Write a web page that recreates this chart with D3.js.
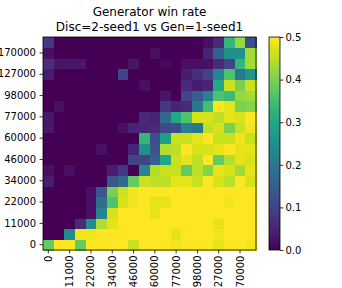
<!DOCTYPE html>
<html>
<head>
<meta charset="utf-8">
<script src="https://cdn.jsdelivr.net/npm/d3@7"></script>
<style>
	body { margin: 0; background: #fff; }
	svg text { font-family: "DejaVu Sans", sans-serif; fill: #000; }
</style>
</head>
<body>
<div id="graphicContainer"></div>
<script>
// tick labels, every second cell is labelled
var tickLabels = ["0", "11000", "22000", "34000", "46000", "60000", "77000", "98000", "127000", "170000"]

// generator win rate, rows from Gen step 0 (bottom) upwards, columns = Disc step
var winRate = [
	[0.38,0.5,0.5,0.38,0.5,0.5,0.5,0.5,0.46,0.5, 0.5,0.5,0.49,0.5,0.5,0.5,0.48,0.5,0.5,0.49],
	[0,0,0.24,0.49,0.49,0.5,0.5,0.5,0.5,0.5, 0.5,0.5,0.48,0.5,0.5,0.5,0.49,0.5,0.5,0.5],
	[0,0,0,0.06,0.24,0.44,0.48,0.5,0.5,0.5, 0.5,0.5,0.5,0.5,0.5,0.5,0.48,0.5,0.5,0.5],
	[0,0,0,0,0.02,0.22,0.47,0.5,0.5,0.5, 0.48,0.5,0.5,0.5,0.5,0.5,0.5,0.5,0.5,0.5],
	[0,0,0,0,0.02,0.18,0.36,0.47,0.49,0.5, 0.48,0.48,0.5,0.5,0.5,0.5,0.5,0.49,0.5,0.5],
	[0,0,0,0,0.02,0.13,0.4,0.46,0.49,0.5, 0.5,0.5,0.5,0.5,0.5,0.5,0.5,0.5,0.5,0.5],
	[0.04,0,0,0,0,0,0.13,0.17,0.38,0.46, 0.45,0.45,0.48,0.48,0.46,0.5,0.47,0.45,0.5,0.47],
	[0.02,0,0.02,0,0,0,0.04,0.08,0,0.23, 0.44,0.46,0.46,0.38,0.45,0.41,0.48,0.47,0.43,0.48],
	[0,0,0,0,0,0,0,0,0.1,0.1, 0.15,0.3,0.46,0.48,0.45,0.5,0.38,0.44,0.48,0.47],
	[0,0,0,0,0,0.02,0,0,0.05,0.25, 0.13,0.44,0.45,0.5,0.47,0.47,0.48,0.5,0.48,0.48],
	[0,0,0,0,0,0,0,0,0,0.33, 0.12,0.28,0.46,0.46,0.48,0.5,0.46,0.46,0.49,0.46],
	[0.03,0,0,0,0,0,0,0.02,0.05,0.05, 0.06,0.11,0.12,0.22,0.2,0.45,0.47,0.4,0.46,0.49],
	[0.03,0,0,0,0,0,0,0,0,0.06, 0.05,0.17,0.3,0.36,0.47,0.47,0.45,0.48,0.47,0.5],
	[0,0.02,0,0,0,0,0,0,0,0, 0,0.08,0.05,0.06,0.2,0.35,0.5,0.48,0.4,0.41],
	[0,0,0,0,0,0,0,0,0,0, 0,0.03,0,0.1,0.15,0.22,0.36,0.34,0.42,0.43],
	[0,0,0,0,0,0,0,0,0,0.02, 0,0,0,0.06,0.04,0.05,0.3,0.46,0.4,0.46],
	[0.04,0,0,0,0,0,0,0.1,0,0, 0,0,0,0.04,0.07,0.1,0.23,0.36,0.2,0.26],
	[0.07,0.03,0.03,0.03,0,0,0,0,0.03,0, 0,0.01,0,0.02,0.02,0.02,0.06,0.1,0.33,0.43],
	[0.02,0,0,0,0,0,0,0,0,0, 0.02,0,0,0,0,0.05,0.15,0.25,0.25,0.43],
	[0.08,0,0,0,0,0,0,0,0,0, 0,0,0,0,0,0.02,0.06,0.33,0.42,0.12]
]

var colorTicks = [0, 0.1, 0.2, 0.3, 0.4, 0.5]

var width = 342, height = 288
var margin = {top: 37, left: 43}
var plotSize = 213

var svg = d3.select("#graphicContainer").append("svg")
	.attr("width", width)
	.attr("height", height)

var n = winRate.length
var idx = d3.range(n)

var x = d3.scaleBand().domain(idx).range([0, plotSize])
var y = d3.scaleBand().domain(idx).range([plotSize, 0])
var color = d3.scaleSequential(d3.interpolateViridis).domain([0, 0.5]).clamp(true)

var features = svg.append("g").attr("transform", "translate(" + margin.left + "," + margin.top + ")")

var cells = []
winRate.forEach(function(row, r) {
	row.forEach(function(v, c) { cells.push({r: r, c: c, v: v}) })
})

features.selectAll(".cell")
	.data(cells)
	.enter().append("rect")
	.attr("class", "cell")
	.attr("x", function(d) { return x(d.c) })
	.attr("y", function(d) { return y(d.r) })
	.attr("width", x.bandwidth() + 0.5)
	.attr("height", y.bandwidth() + 0.5)
	.attr("shape-rendering", "crispEdges")
	.style("fill", function(d) { return color(d.v) })

var tickIdx = idx.filter(function(i) { return i % 2 == 0 })

var xAxis = d3.axisBottom(x).tickValues(tickIdx).tickSize(3.5).tickPadding(2)
	.tickFormat(function(d) { return tickLabels[d / 2] })
var yAxis = d3.axisLeft(y).tickValues(tickIdx).tickSize(3.5).tickPadding(3.5)
	.tickFormat(function(d) { return tickLabels[d / 2] })

var gx = features.append("g")
	.attr("class", "x")
	.attr("transform", "translate(0," + plotSize + ")")
	.call(xAxis)
gx.select(".domain").remove()
gx.selectAll("text")
	.attr("font-size", 10)
	.attr("transform", "rotate(-90)")
	.attr("text-anchor", "end")
	.attr("x", -5.5)
	.attr("y", 0)
	.attr("dy", "0.35em")

var gy = features.append("g")
	.attr("class", "y")
	.call(yAxis)
gy.select(".domain").remove()
gy.selectAll("text").attr("font-size", 10)

features.selectAll(".tick line").attr("stroke", "#000").attr("stroke-width", 0.8)

features.append("rect")
	.attr("width", plotSize)
	.attr("height", plotSize)
	.attr("fill", "none")
	.attr("stroke", "#000")
	.attr("stroke-width", 0.8)

// colorbar
var cbX = 269, cbW = 11
var cb = svg.append("g").attr("transform", "translate(" + cbX + "," + margin.top + ")")
var cy = d3.scaleLinear().domain([0, 0.5]).range([plotSize, 0])

var grad = svg.append("defs").append("linearGradient")
	.attr("id", "cbGrad")
	.attr("x1", 0).attr("y1", 1).attr("x2", 0).attr("y2", 0)
d3.range(0, 1.0001, 0.05).forEach(function(t) {
	grad.append("stop").attr("offset", t).attr("stop-color", d3.interpolateViridis(t))
})

cb.append("rect")
	.attr("width", cbW)
	.attr("height", plotSize)
	.attr("fill", "url(#cbGrad)")
	.attr("stroke", "#000")
	.attr("stroke-width", 0.8)

var cAxis = cb.append("g")
	.attr("transform", "translate(" + cbW + ",0)")
	.call(d3.axisRight(cy).tickValues(colorTicks).tickSize(3.5).tickPadding(2).tickFormat(d3.format(".1f")))
cAxis.select(".domain").remove()
cAxis.selectAll("text").attr("font-size", 10)
cAxis.selectAll("line").attr("stroke", "#000").attr("stroke-width", 0.8)

// title
var title = svg.append("text")
	.attr("text-anchor", "middle")
	.attr("font-size", 12)
title.append("tspan").attr("x", margin.left + plotSize / 2).attr("y", 16).text("Generator win rate")
title.append("tspan").attr("x", margin.left + plotSize / 2).attr("y", 31).text("Disc=2-seed1 vs Gen=1-seed1")
</script>
</body>
</html>
